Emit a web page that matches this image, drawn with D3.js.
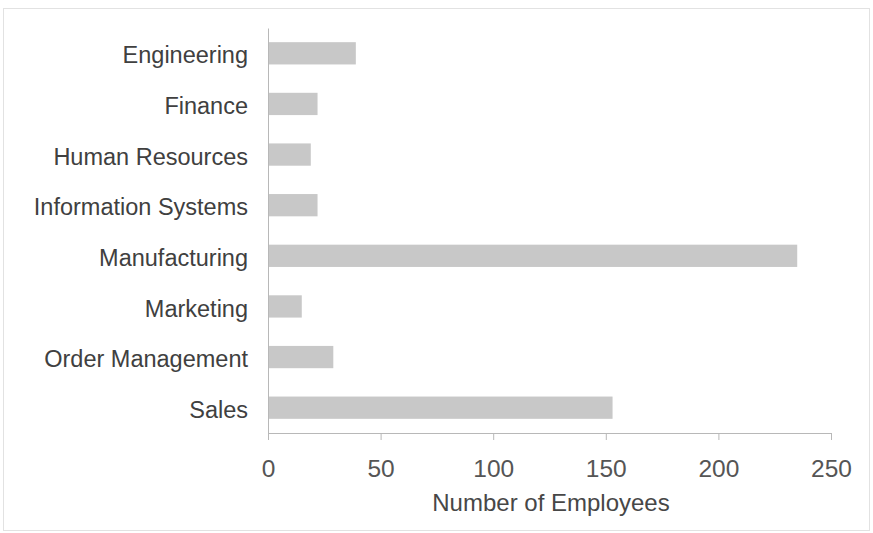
<!DOCTYPE html>
<html>
<head>
<meta charset="utf-8">
<script src="https://cdn.jsdelivr.net/npm/d3@7"></script>
<style>
  html, body { margin: 0; padding: 0; background: #fff; }
  svg { display: block; }
  text { font-family: "Liberation Sans", Arial, sans-serif; }
</style>
</head>
<body>
<svg id="chart" width="873" height="533"></svg>
<script>
const departments = ["Engineering", "Finance", "Human Resources", "Information Systems",
                     "Manufacturing", "Marketing", "Order Management", "Sales"];
const employees = [39, 22, 19, 22, 235, 15, 29, 153];
const xTicks = [0, 50, 100, 150, 200, 250];
const xTitle = "Number of Employees";

const data = departments.map((d, i) => ({ dept: d, value: employees[i] }));

const svg = d3.select("#chart");

// faint frame
svg.append("rect")
  .attr("x", 3.5).attr("y", 8.5).attr("width", 866).attr("height", 522)
  .attr("fill", "none").attr("stroke", "#e2e2e2").attr("stroke-width", 1);

const x = d3.scaleLinear().domain([0, 250]).range([268, 831]);
const y = d3.scaleBand().domain(departments).range([28, 433])
  .paddingInner(0.56).paddingOuter(0.28);

// bars
svg.append("g").selectAll("rect")
  .data(data).enter().append("rect")
  .attr("x", x(0) + 1)
  .attr("y", d => y(d.dept))
  .attr("width", d => x(d.value) - x(0) - 1)
  .attr("height", y.bandwidth())
  .attr("fill", "#c8c8c8");

// x axis
const xAxis = svg.append("g")
  .attr("transform", "translate(0,433)")
  .call(d3.axisBottom(x).tickValues(xTicks).tickSize(7).tickSizeOuter(7).tickPadding(20));
xAxis.select(".domain").attr("stroke", "#b8b8b8");
xAxis.selectAll(".tick line").attr("stroke", "#b8b8b8");
xAxis.selectAll(".tick text")
  .attr("font-size", "24.5px").attr("fill", "#555")
  .attr("font-family", "Liberation Sans, Arial, sans-serif");

// y axis
const yAxis = svg.append("g")
  .attr("transform", "translate(268,0)")
  .call(d3.axisLeft(y).tickSize(0).tickPadding(20));
yAxis.select(".domain").attr("stroke", "#b8b8b8");
yAxis.selectAll(".tick text")
  .attr("font-size", "23.5px").attr("fill", "#404040")
  .attr("dy", "0.43em")
  .attr("font-family", "Liberation Sans, Arial, sans-serif");

// x title
svg.append("text")
  .attr("x", 551).attr("y", 511)
  .attr("text-anchor", "middle")
  .attr("font-size", "24px").attr("fill", "#474747")
  .text(xTitle);
</script>
</body>
</html>
